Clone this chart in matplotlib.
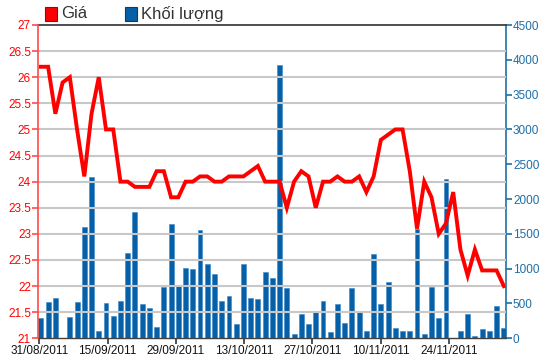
import matplotlib
matplotlib.use("Agg")
import matplotlib.pyplot as plt
import numpy as np
from matplotlib.patches import Rectangle

# ---- data ----
price = [26.2, 26.2, 25.3, 25.9, 26.0, 25.0, 24.1, 25.3, 26.0, 25.0,
         25.0, 24.0, 24.0, 23.9, 23.9, 23.9, 24.2, 24.2, 23.7, 23.7,
         24.0, 24.0, 24.1, 24.1, 24.0, 24.0, 24.1, 24.1, 24.1, 24.2,
         24.3, 24.0, 24.0, 24.0, 23.5, 24.0, 24.2, 24.1, 23.5, 24.0,
         24.0, 24.1, 24.0, 24.0, 24.1, 23.8, 24.1, 24.8, 24.9, 25.0,
         25.0, 24.2, 23.1, 24.0, 23.7, 23.0, 23.2, 23.8, 22.7, 22.2,
         22.7, 22.3, 22.3, 22.3, 22.0]
volume = [290, 526, 574, 0, 310, 526, 1603, 2321, 110, 503,
          325, 540, 1230, 1818, 488, 440, 167, 741, 1642, 756,
          1010, 991, 1551, 1063, 919, 540, 612, 201, 1063, 579,
          560, 957, 866, 3926, 718, 57, 345, 201, 396, 540,
          95, 488, 215, 718, 373, 110, 1211, 488, 813, 144,
          105, 105, 1565, 57, 741, 287, 2288, 0, 110, 345,
          37, 129, 110, 468, 144]
tick_labels = ["31/08/2011", "15/09/2011", "29/09/2011", "13/10/2011",
               "27/10/2011", "10/11/2011", "24/11/2011"]
legend_labels = ["Giá", "Khối lượng"]

RED = "#ff0000"
BLUE = "#0560a8"
AXRED = "#ff4a4a"
AXBLUE = "#1d6fa8"

plt.rcParams['font.family'] = ['Liberation Sans', 'DejaVu Sans']

fig = plt.figure(figsize=(5.5, 3.64), dpi=100)
ax_v = fig.add_axes([38/550, 1-338.3/364, 468/550, 313.3/364])
ax_p = ax_v.twinx()

x = np.arange(len(price))
ax_v.bar(x, volume, width=0.68, color=BLUE, edgecolor="#3a86c8", linewidth=0.4, zorder=3)
ax_v.set_ylim(0, 4500)
ax_v.set_yticks(np.arange(0, 4501, 500))

ax_p.plot(x, price, color=RED, linewidth=2.8, solid_joinstyle='miter', zorder=4)
ax_p.set_ylim(21, 27)
ax_p.set_yticks(np.arange(21, 27.01, 0.5))
ax_p.set_yticklabels([f"{v:g}" for v in np.arange(21, 27.01, 0.5)])

# price axis on the left, volume axis on the right
ax_p.yaxis.set_ticks_position('left')
ax_p.yaxis.set_label_position('left')
ax_v.yaxis.set_ticks_position('right')
ax_v.yaxis.set_label_position('right')

ax_v.set_xlim(-0.4, len(price) - 0.7)
step = 9.44
ax_v.set_xticks([-0.23 + step * k for k in range(len(tick_labels))])
ax_v.set_xticklabels(tick_labels)

# gridlines at price ticks
for v in np.arange(21.5, 27.0, 0.5):
    ax_p.axhline(v, color="#c8c8c8", linewidth=1.5, zorder=1)
ax_v.set_zorder(ax_p.get_zorder() - 1)
ax_p.patch.set_visible(False)
ax_v.patch.set_visible(True)
ax_v.patch.set_facecolor("white")

for a in (ax_v, ax_p):
    for s in a.spines.values():
        s.set_visible(False)
ax_p.spines['left'].set_visible(True)
ax_p.spines['left'].set_color(AXRED)
ax_p.spines['left'].set_linewidth(1.2)
ax_v.spines['right'].set_visible(True)
ax_v.spines['right'].set_color(AXBLUE)
ax_v.spines['right'].set_linewidth(1.2)
ax_v.spines['top'].set_visible(True)
ax_v.spines['top'].set_color("#404040")
ax_v.spines['top'].set_linewidth(1.3)
ax_v.spines['bottom'].set_visible(True)
ax_v.spines['bottom'].set_color("#404040")
ax_v.spines['bottom'].set_linewidth(1.0)

ax_p.tick_params(axis='y', colors=AXRED, labelcolor=RED, labelsize=8.5, length=4, width=1.2, pad=1)
ax_v.tick_params(axis='y', colors=AXBLUE, labelcolor=AXBLUE, labelsize=8.5, length=4, width=1.2, pad=1)
ax_v.tick_params(axis='x', colors="#333333", labelcolor="#111111", labelsize=8.5, length=4, width=1.2, pad=1)
ax_p.tick_params(axis='x', bottom=False, labelbottom=False)

# legend at top
for i, (lab, col) in enumerate(zip(legend_labels, [RED, BLUE])):
    x0 = 45 + i * 80
    fig.patches.append(Rectangle((x0/550, 1-21/364), 12/550, 14/364, transform=fig.transFigure,
                                 facecolor=col, edgecolor="#333333", linewidth=0.8))
    fig.text((x0 + 16)/550, 1-14/364, lab, fontsize=12, color="#333333", va='center', ha='left')

fig.savefig("out.png", dpi=100)
